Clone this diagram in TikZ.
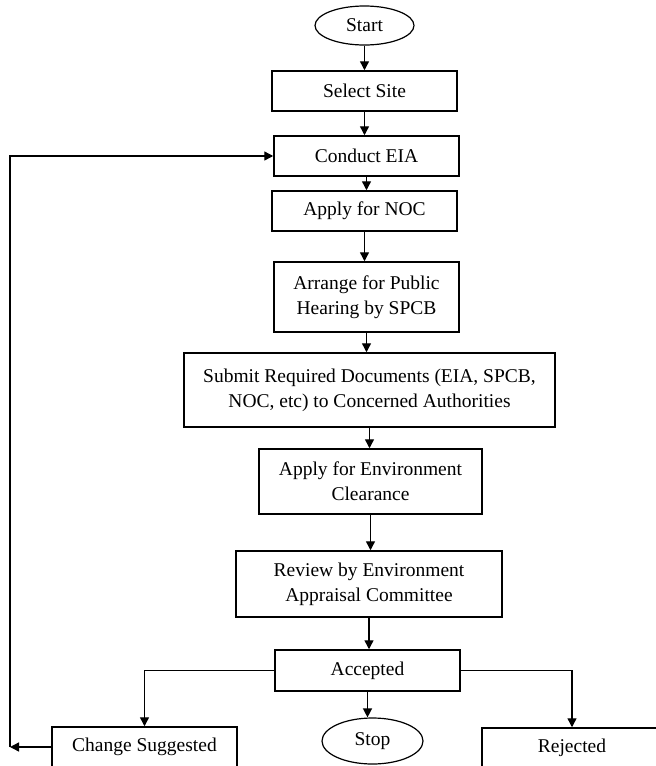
\documentclass[tikz,border=0pt]{standalone}
\usepackage{fontspec}
\setmainfont{Liberation Serif}
\usetikzlibrary{arrows.meta,shapes.geometric}

\tikzset{
  box/.style={draw, line width=1.5pt, rectangle, align=center, inner sep=0pt,
    font=\fontsize{19.5}{25}\selectfont},
  term/.style={draw, line width=1.2pt, ellipse, inner sep=0pt,
    font=\fontsize{19.5}{25}\selectfont},
  arr/.style={line width=1.4pt, -{Triangle[length=9pt,width=9pt]}}
}

\begin{document}
\begin{tikzpicture}[x=1pt, y=-1pt]
\useasboundingbox (0,0) rectangle (656,766);
\clip (0,0) rectangle (656,766);

% Main column
\node[term, minimum width=99pt, minimum height=39pt] (start) at (364.5,25.5) {Start};
\node[box, minimum width=185pt, minimum height=40pt] (site) at (364.5,91) {Select Site};
\node[box, minimum width=185pt, minimum height=40pt] (eia) at (366.5,156) {Conduct EIA};
\node[box, minimum width=185pt, minimum height=40pt] (noc) at (364.5,211) {Apply for NOC};
\node[box, minimum width=185pt, minimum height=70pt] (hearing) at (366.5,297) {Arrange for Public\\Hearing by SPCB};
\node[box, minimum width=371pt, minimum height=74pt] (submit) at (369.5,390) {Submit Required Documents (EIA, SPCB,\\NOC, etc) to Concerned Authorities};
\node[box, minimum width=223pt, minimum height=65pt] (clearance) at (370.5,481.5) {Apply for Environment\\Clearance};
\node[box, minimum width=266pt, minimum height=66pt] (review) at (369,584) {Review by Environment\\Appraisal Committee};
\node[box, minimum width=185pt, minimum height=41pt] (accepted) at (367.5,670.5) {Accepted};

% Outcomes
\node[box, minimum width=185pt, minimum height=40pt] (change) at (144.5,747) {Change Suggested};
\node[term, minimum width=101pt, minimum height=46pt] (stop) at (372.5,741) {Stop};
\node[box, minimum width=180pt, minimum height=40pt] (rejected) at (572,748) {Rejected};

% Flow
\draw[arr] (start.south) -- (start.south |- site.north);
\draw[arr] (site.south) -- (site.south |- eia.north);
\draw[arr] (eia.south) -- (eia.south |- noc.north);
\draw[arr] (noc.south) -- (noc.south |- hearing.north);
\draw[arr] (hearing.south) -- (hearing.south |- submit.north);
\draw[arr] (submit.south) -- (submit.south |- clearance.north);
\draw[arr] (clearance.south) -- (clearance.south |- review.north);
\draw[arr] (review.south) -- (review.south |- accepted.north);

% Branches
\draw[arr] (accepted.west) -| (change.north);
\draw[arr] (accepted.south) -- (accepted.south |- stop.north);
\draw[arr] (accepted.east) -| (rejected.north);

% Feedback loop
\coordinate (back) at (10,747);
\draw[arr] (change.west) -- (back);
\draw[arr] (back) |- (eia.west);
\end{tikzpicture}
\end{document}
